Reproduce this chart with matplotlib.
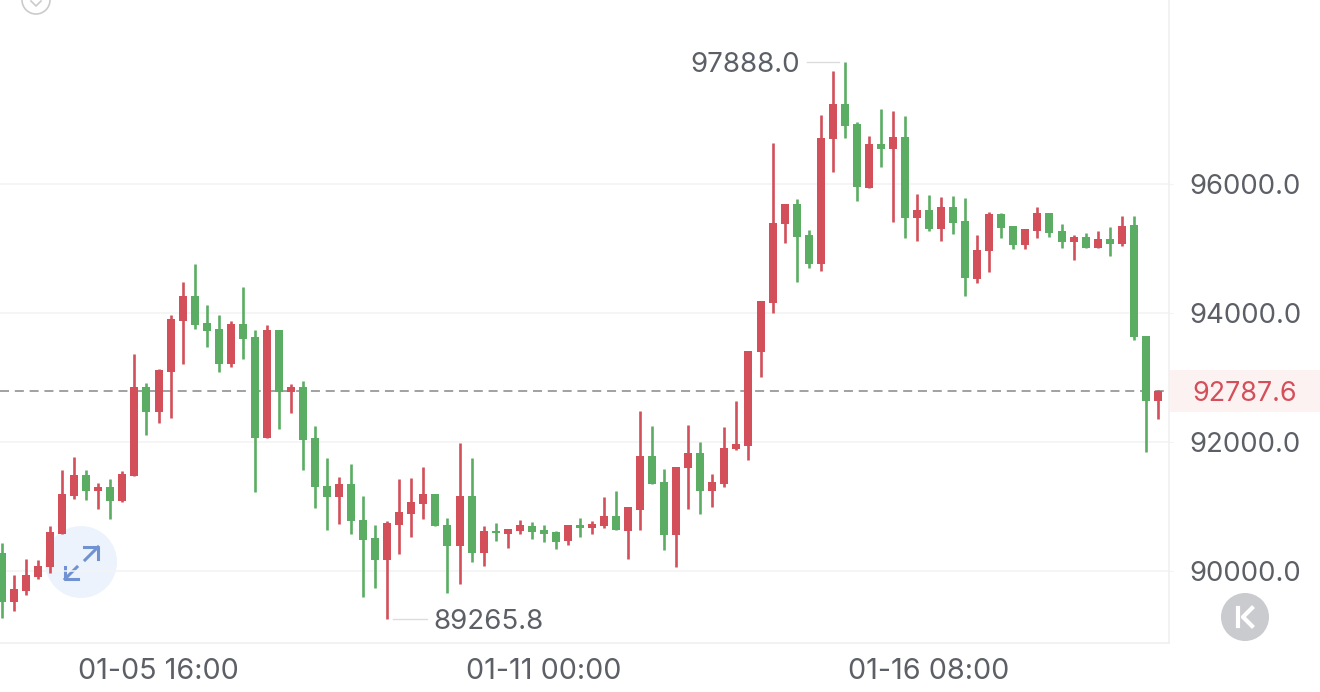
import matplotlib
matplotlib.use('Agg')
import matplotlib.pyplot as plt
from matplotlib.patches import Circle, Rectangle

plt.rcParams['font.family'] = ['Inter', 'DejaVu Sans']

opens = [90285, 89527, 89697, 89904, 90068, 90575, 91168, 91483, 91245, 91298,
         91085, 91477, 92846, 92468, 93078, 93872, 94259, 93836, 93743, 93206,
         93826, 93620, 92056, 93728, 92773, 92855, 92056, 91322, 91147, 91349,
         90791, 90513, 90177, 90714, 90884, 91034, 91194, 90719, 90384, 91158,
         90281, 90626, 90579, 90616, 90703, 90641, 90606, 90462, 90719, 90663,
         90699, 90846, 90623, 90948, 91776, 91387, 90565, 91592, 91829, 91236,
         91356, 91886, 91938, 93394, 94149, 95369, 95683, 95197, 94751, 96685,
         97230, 96925, 95935, 96616, 96531, 96726, 95466, 95586, 95301, 95637,
         95415, 94527, 94956, 95524, 95338, 95044, 95270, 95544, 95270, 95095,
         95168, 94997, 95146, 95068, 95353, 93644, 92634]
highs = [90430, 89940, 90183, 90172, 90698, 91565, 91762, 91565, 91369, 91421,
         91555, 93356, 92917, 93124, 93969, 94471, 94750, 94120, 93960, 93877,
         94403, 93728, 93815, 93728, 92892, 92938, 92239, 91756, 91452, 91663,
         91158, 90719, 90781, 91421, 91446, 91607, 91194, 90818, 91983, 91747,
         90694, 90750, 90657, 90796, 90760, 90709, 90621, 90709, 90822, 90771,
         91147, 91248, 90996, 92483, 92242, 91581, 91613, 92268, 92000, 91508,
         92231, 92635, 93415, 94175, 96627, 95683, 95762, 95285, 97061, 97742,
         97888, 96946, 96736, 97161, 97120, 97042, 95838, 95822, 95787, 95802,
         95771, 95199, 95555, 95539, 95338, 95296, 95632, 95544, 95369, 95199,
         95230, 95270, 95327, 95493, 95493, 93644, 92808]
lows = [89270, 89387, 89626, 89873, 89976, 90575, 91121, 91106, 90957, 90811,
        91075, 91477, 92112, 92293, 92375, 93202, 93748, 93474, 93087, 93155,
        93288, 91229, 92056, 92205, 92452, 91565, 90982, 90641, 90734, 90570,
        89595, 89739, 89265.8, 90265, 90524, 90802, 90694, 89666, 89796, 90137,
        90084, 90471, 90363, 90579, 90502, 90455, 90347, 90409, 90533, 90575,
        90672, 90629, 90183, 90638, 91356, 90330, 90067, 90959, 90880, 90996,
        91310, 91875, 91723, 93007, 93997, 95081, 94483, 94698, 94646, 96182,
        96705, 95736, 95935, 96259, 95407, 95152, 95106, 95270, 95115, 95219,
        94264, 94465, 94635, 95161, 94991, 94991, 95161, 95168, 95007, 94816,
        94997, 94997, 94873, 95033, 93573, 91849, 92350]
closes = [89527, 89719, 89935, 90084, 90601, 91198, 91483, 91245, 91302, 91090,
          91508, 92846, 92468, 93109, 93903, 94259, 93815, 93712, 93211, 93826,
          93593, 92061, 93728, 92768, 92850, 92030, 91299, 91147, 91349, 90771,
          90486, 90177, 90740, 90915, 91065, 91194, 90694, 90384, 91158, 90281,
          90621, 90585, 90647, 90709, 90606, 90575, 90455, 90709, 90668, 90729,
          90849, 90629, 90985, 91776, 91356, 90565, 91613, 91829, 91236, 91387,
          91912, 91965, 93415, 94175, 95395, 95683, 95171, 94751, 96705, 97230,
          96894, 95946, 96616, 96531, 96726, 95466, 95590, 95291, 95637, 95389,
          94542, 94976, 95528, 95316, 95044, 95296, 95544, 95239, 95095, 95172,
          94997, 95146, 95059, 95347, 93624, 92634, 92787.6]

y_ticks = [90000, 92000, 94000, 96000]
x_tick_pos = [13, 45, 77]
x_tick_labels = ['01-05 16:00', '01-11 00:00', '01-16 08:00']
last_price = 92787.6

RED = '#d34f5a'
GREEN = '#5bad63'
TEXT = '#5c6066'
LINE = '#f3f3f4'

W, H = 1320, 692
STEP = 12.04
fig = plt.figure(figsize=(W / 100, H / 100), dpi=100, facecolor='white')

# pixel overlay for the buttons, under the candles
bg = fig.add_axes([0, 0, 1, 1], zorder=0)
bg.set_xlim(0, W)
bg.set_ylim(H, 0)
bg.axis('off')
bg.add_patch(Circle((81, 562), 36, fc='#edf3fc', ec='none'))
bg.plot([84, 98, 98], [547, 547, 559], color='#7192d2', lw=2.2)
bg.plot([98, 85], [547, 560], color='#7192d2', lw=2.2)
bg.plot([65, 65, 78], [567, 579, 579], color='#7192d2', lw=2.2)
bg.plot([65, 77], [579, 567], color='#7192d2', lw=2.2)
bg.add_patch(Circle((36, 0), 14, fc='none', ec='#c9cbce', lw=1.2))
bg.plot([31, 36, 41], [1, 6, 1], color='#c9cbce', lw=1.2)
bg.add_patch(Circle((1245, 617), 24, fc='#c9cbce', ec='none', zorder=5))
bg.plot([1238, 1238], [608, 626], color='white', lw=3, zorder=6)
bg.plot([1252, 1243, 1252], [608, 617, 626], color='white', lw=3, zorder=6)

ax = fig.add_axes([0, (H - 643) / H, 1169 / W, 643 / H], zorder=1)
ax.patch.set_alpha(0)
ax.set_xlim(-2 / STEP, 1167 / STEP)
ax.set_ylim(88887.4, 98841)

for spine in ['top', 'left']:
    ax.spines[spine].set_visible(False)
for spine in ['right', 'bottom']:
    ax.spines[spine].set_color('#f0f0f1')
    ax.spines[spine].set_linewidth(1.2)

ax.grid(axis='y', color=LINE, lw=1.1)
ax.set_axisbelow(True)
ax.yaxis.tick_right()
ax.set_yticks(y_ticks)
ax.set_yticklabels(['%.1f' % v for v in y_ticks])
ax.tick_params(axis='y', length=3, color=LINE, pad=12, labelsize=19.8, labelcolor=TEXT)
ax.set_xticks(x_tick_pos)
ax.set_xticklabels(x_tick_labels)
ax.tick_params(axis='x', length=0, pad=10.5, labelsize=20.7, labelcolor=TEXT)

ax.axhline(last_price, color='#9a9a9a', lw=1.3, dashes=(5, 3.2), zorder=2)

for i in range(len(opens)):
    color = RED if closes[i] >= opens[i] else GREEN
    ax.vlines(i, lows[i], highs[i], color=color, lw=1.9, zorder=3)
    ax.bar(i, abs(closes[i] - opens[i]), bottom=min(opens[i], closes[i]),
           width=8 / STEP, color=color, zorder=3)

# max and min labels
hi = highs.index(max(highs))
lo = lows.index(min(lows))
ax.plot([hi - 3.1, hi - 0.5], [highs[hi], highs[hi]], color='#dcdcdc', lw=1)
ax.text(hi - 3.7, highs[hi], '%.1f' % highs[hi], ha='right', va='center_baseline',
        fontsize=20, color=TEXT)
ax.plot([lo + 0.5, lo + 3.3], [lows[lo], lows[lo]], color='#dcdcdc', lw=1)
ax.text(lo + 3.8, lows[lo], '%.1f' % lows[lo], ha='left', va='center_baseline',
        fontsize=20, color=TEXT)

# current price tag on the axis
trans = ax.get_yaxis_transform()
ax.add_patch(Rectangle((1.0, last_price - 325), W / 1169 - 1, 650, transform=trans,
                       fc='#fdf2f2', ec='none', clip_on=False, zorder=2))
ax.text(1192 / 1169, last_price, '%.1f' % last_price, transform=trans, ha='left',
        va='center_baseline', fontsize=19.4, color=RED, zorder=4, clip_on=False)

fig.savefig('out.png', dpi=100)
